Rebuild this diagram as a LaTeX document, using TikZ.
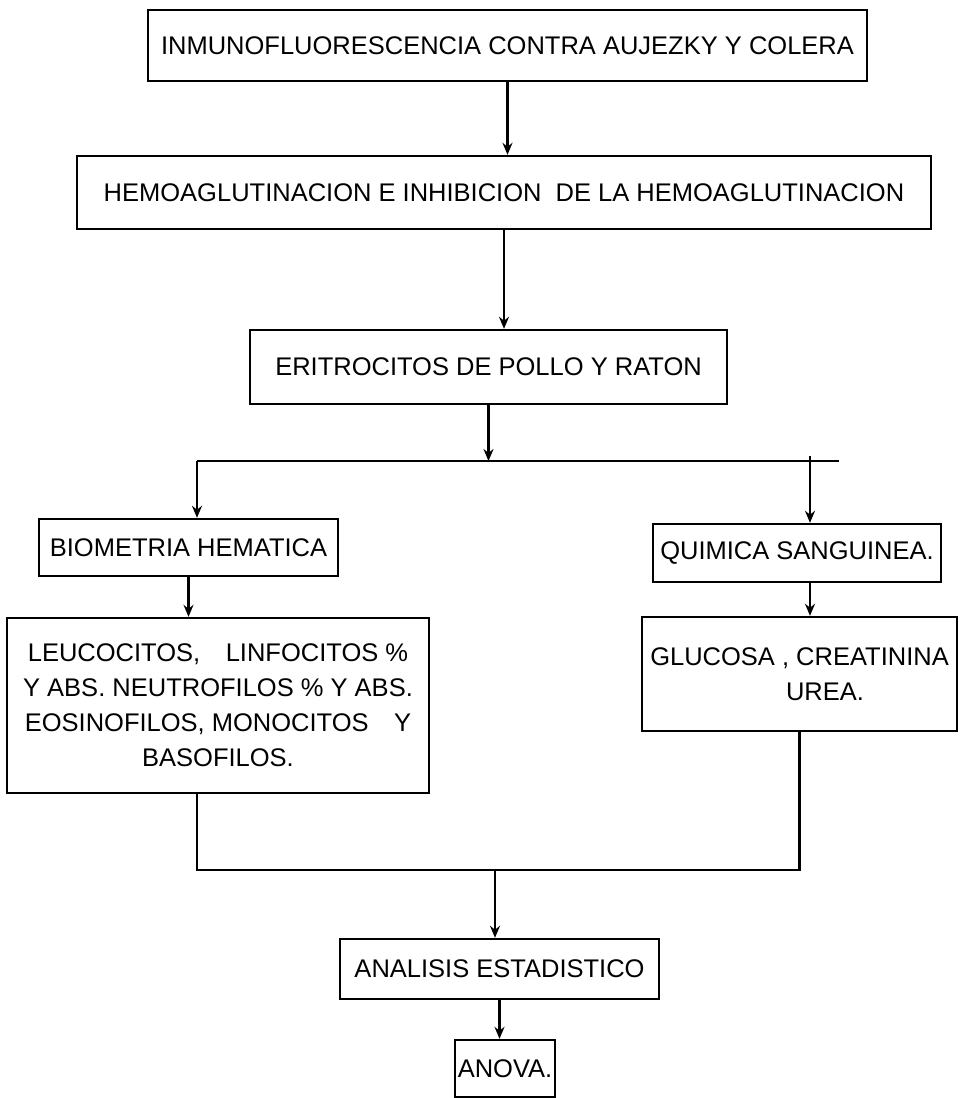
\documentclass[tikz,border=0pt]{standalone}
\usepackage{fontspec}
\setmainfont{Liberation Sans}
\usetikzlibrary{arrows.meta}

\begin{document}
\begin{tikzpicture}[>={Stealth[length=12pt,width=10pt]},x=1pt,y=-1pt,line width=2.4pt,
  proc box/.style={draw,inner sep=0pt,align=center,
    font=\fontsize{25.5}{35}\selectfont}]
  \useasboundingbox (0,0) rectangle (961,1098);
  \node[proc box,minimum width=719pt,minimum height=71pt]  (inmuno) at (507.5,45.5) {INMUNOFLUORESCENCIA CONTRA AUJEZKY Y COLERA};
  \node[proc box,minimum width=854pt,minimum height=73pt]  (hemo)   at (504,192.5)  {HEMOAGLUTINACION E INHIBICION\ \ DE LA HEMOAGLUTINACION};
  \node[proc box,minimum width=477pt,minimum height=74pt]  (eritro) at (488.5,367)  {ERITROCITOS DE POLLO Y RATON};
  \node[proc box,minimum width=299pt,minimum height=57pt]  (biom)   at (188.5,547.5) {BIOMETRIA HEMATICA};
  \node[proc box,minimum width=288pt,minimum height=58pt]  (quim)   at (797,553)    {QUIMICA SANGUINEA.};
  \node[proc box,minimum width=422pt,minimum height=175pt] (leuc)   at (218,705.5)  {LEUCOCITOS,\quad LINFOCITOS \%\\
    Y ABS. NEUTROFILOS \% Y ABS.\\ EOSINOFILOS, MONOCITOS\quad Y\\ BASOFILOS.};
  \node[proc box,minimum width=315pt,minimum height=114pt] (gluc)   at (799.5,674)  {GLUCOSA , CREATININA\\ \hspace*{2em}UREA.};
  \node[proc box,minimum width=319pt,minimum height=60pt]  (anal)   at (499.5,969)  {ANALISIS ESTADISTICO};
  \node[proc box,minimum width=100pt,minimum height=57pt]  (anova)  at (505,1068.5) {ANOVA.};
  % branch and join points
  \coordinate (splitL) at (197,461);
  \coordinate (splitR) at (839,461);
  \coordinate (qtop)   at (810,456);
  \coordinate (merge)  at (495,870);
  \draw (splitL) -- (splitR);
  \draw (leuc.south -| splitL) |- (merge) -| (gluc.south);
  \path[->]
    (inmuno.south) edge (inmuno.south |- hemo.north)
    (hemo.south)   edge (hemo.south |- eritro.north)
    (eritro.south) edge (eritro.south |- splitL)
    (splitL)       edge (splitL |- biom.north)
    (qtop)         edge (qtop |- quim.north)
    (biom.south)   edge (biom.south |- leuc.north)
    (quim.south -| qtop) edge (qtop |- gluc.north)
    (merge)        edge (merge |- anal.north)
    (anal.south)   edge (anal.south |- anova.north);
\end{tikzpicture}
\end{document}
